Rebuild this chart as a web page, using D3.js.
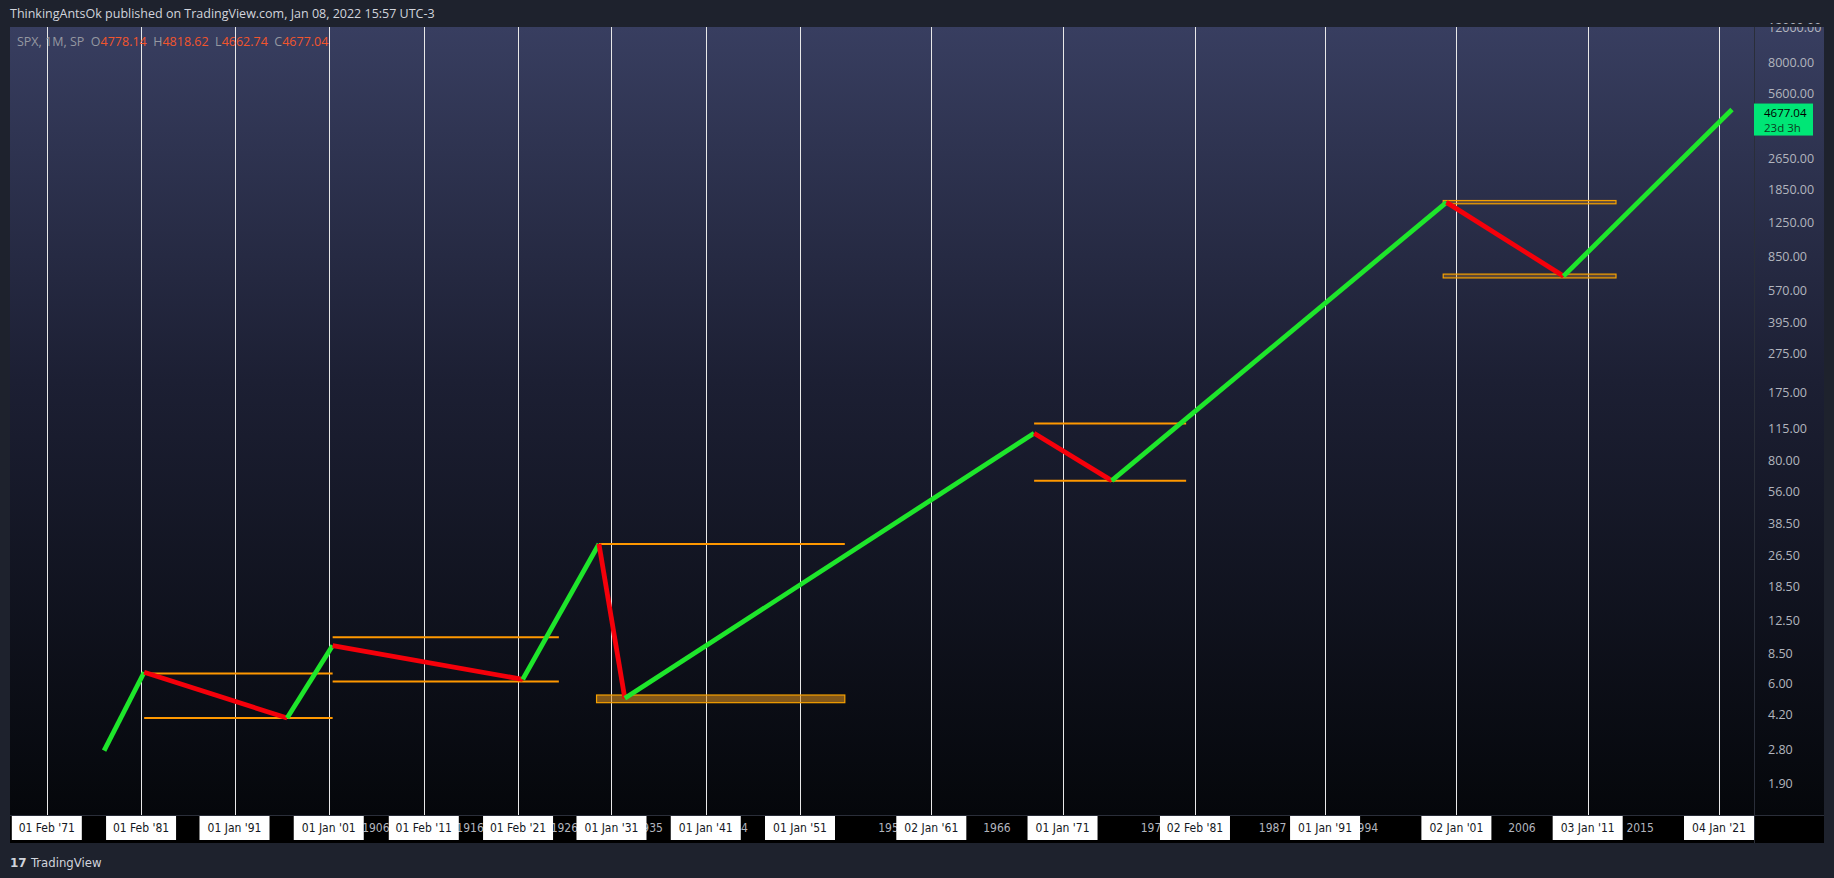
<!DOCTYPE html>
<html><head><meta charset="utf-8">
<script src="https://cdn.jsdelivr.net/npm/d3@7"></script>
<style>body{margin:0;background:#1e222d;overflow:hidden}</style>
</head><body><svg id="c" width="1834" height="878"></svg>
<script>
// ---- data ----
const pivotDates = ["1877-03-01","1881-06-01","1896-08-01","1901-06-01","1921-08-01","1929-09-01","1932-06-01","1968-11-01","1974-10-01","2000-04-01","2009-03-01","2022-01-01"];
const pivotValues = [2.78, 6.9, 4.06, 9.4, 6.35, 30.5, 5.1, 110, 63.5, 1596, 679, 4677.04];
const levelStart = ["1881-06-01","1881-06-01","1901-06-01","1901-06-01","1929-09-01","1968-11-01","1968-11-01"];
const levelEnd   = ["1901-06-01","1901-06-01","1925-06-01","1925-06-01","1954-06-01","1980-06-01","1980-06-01"];
const levelValue = [6.8, 4.06, 10.35, 6.2, 30.5, 123, 63.5];
const bandStart = ["1929-06-01","2000-01-01","2000-01-01"];
const bandEnd   = ["1954-06-01","2013-03-01","2013-03-01"];
const bandLow   = [4.85, 1570, 665];
const bandHigh  = [5.3, 1630, 695];
const timeTickDates = ["1871-02-01","1881-02-01","1891-01-01","1901-01-01","1911-02-01","1921-02-01","1931-01-01","1941-01-01","1951-01-01","1961-01-02","1971-01-01","1981-02-02","1991-01-01","2001-01-02","2011-01-03","2021-01-04"];
const timeTickLabels = ["01 Feb '71","01 Feb '81","01 Jan '91","01 Jan '01","01 Feb '11","01 Feb '21","01 Jan '31","01 Jan '41","01 Jan '51","02 Jan '61","01 Jan '71","02 Feb '81","01 Jan '91","02 Jan '01","03 Jan '11","04 Jan '21"];
const minorYears = ["1906","1916","1926","1935","1944","1958","1966","1978","1987","1994","2006","2015"];
const priceTicks = [12000,8000,5600,2650,1850,1250,850,570,395,275,175,115,80,56,38.5,26.5,18.5,12.5,8.5,6,4.2,2.8,1.9];
const lastPrice = 4677.04;

// ---- layout ----
const P = d3.timeParse("%Y-%m-%d");
const L=10, R=1754, T=27, B=815, AX=1824;
const svg = d3.select("#c");
const x = d3.scaleTime().domain([P("1871-02-01"),P("1951-01-01"),P("2021-01-04")]).range([46.8,800,1719]);
const y = d3.scaleLog().domain([1.32,12170]).range([B,T]);

const defs = svg.append("defs");
const g = defs.append("linearGradient").attr("id","bg").attr("x1",0).attr("y1",0).attr("x2",0).attr("y2",1);
g.append("stop").attr("offset","0%").attr("stop-color","#383e60");
g.append("stop").attr("offset","45%").attr("stop-color","#1c1f33");
g.append("stop").attr("offset","100%").attr("stop-color","#05070b");
defs.append("clipPath").attr("id","clip").append("rect").attr("x",L).attr("y",T).attr("width",R-L).attr("height",B-T);

svg.append("rect").attr("x",L).attr("y",T).attr("width",AX-L).attr("height",B-T).attr("fill","url(#bg)");
svg.append("rect").attr("x",L).attr("y",B).attr("width",AX-L).attr("height",28).attr("fill","#000");
svg.append("line").attr("x1",L).attr("x2",AX).attr("y1",B+0.5).attr("y2",B+0.5).attr("stroke","#2a2e39");
svg.append("line").attr("x1",R+0.5).attr("x2",R+0.5).attr("y1",T).attr("y2",B+28).attr("stroke","#2a2e39");

const plot = svg.append("g").attr("clip-path","url(#clip)");
plot.selectAll(".vg").data(timeTickDates).join("line")
  .attr("x1",d=>Math.round(x(P(d)))+0.5).attr("x2",d=>Math.round(x(P(d)))+0.5)
  .attr("y1",T).attr("y2",B).attr("stroke","#e8e8e8").attr("stroke-width",1);

bandStart.forEach((s,i)=>{
  plot.append("rect").attr("x",x(P(s))).attr("width",x(P(bandEnd[i]))-x(P(s)))
   .attr("y",y(bandHigh[i])).attr("height",Math.max(3,y(bandLow[i])-y(bandHigh[i])))
   .attr("fill",i==0?"rgba(230,150,30,0.55)":"rgba(230,150,30,0.3)").attr("stroke","#f5a000").attr("stroke-width",1.2);
});
levelStart.forEach((s,i)=>{
  plot.append("line").attr("x1",x(P(s))).attr("x2",x(P(levelEnd[i])))
   .attr("y1",y(levelValue[i])).attr("y2",y(levelValue[i])).attr("stroke","#ff9800").attr("stroke-width",2);
});
for(let i=0;i<pivotDates.length-1;i++){
  const up = pivotValues[i+1]>pivotValues[i];
  plot.append("line").attr("x1",x(P(pivotDates[i]))).attr("y1",y(pivotValues[i]))
   .attr("x2",x(P(pivotDates[i+1]))).attr("y2",y(pivotValues[i+1]))
   .attr("stroke",up?"#1ee62b":"#f5000a").attr("stroke-width",4.8);
}

svg.selectAll(".yl").data(priceTicks).join("text")
  .attr("x",R+14).attr("y",d=>y(d)+4).text(d=>d.toFixed(2))
  .attr("fill","#b2b5be").attr("font-family","Open Sans, DejaVu Sans").attr("font-size",12.5);
svg.append("rect").attr("x",R).attr("y",T-3).attr("width",AX-R).attr("height",3).attr("fill","#1e222d");
const ly = y(lastPrice);
svg.append("rect").attr("x",R).attr("y",ly-6).attr("width",59).attr("height",32).attr("fill","#00e676");
svg.append("text").attr("x",R+10).attr("y",ly+7).text(lastPrice.toFixed(2)).attr("fill","#000").attr("font-family","Open Sans").attr("font-size",11.5);
svg.append("text").attr("x",R+10).attr("y",ly+22).text("23d 3h").attr("fill","#0b3d1e").attr("font-family","Open Sans").attr("font-size",11.5);

const xf = "DejaVu Sans Condensed, Liberation Sans Narrow, Roboto";
const xa = svg.append("g");
xa.selectAll(".mn").data(minorYears).join("text")
  .attr("x",d=>x(P(d+"-01-01"))).attr("y",B+17).attr("text-anchor","middle").text(d=>d)
  .attr("fill","#b2b5be").attr("font-family",xf).attr("font-size",12);
timeTickDates.forEach((d,i)=>{
  const cx = x(P(d));
  xa.append("rect").attr("x",cx-35).attr("y",B+1).attr("width",70).attr("height",24).attr("fill","#fff");
  xa.append("text").attr("x",cx).attr("y",B+17).attr("text-anchor","middle").text(timeTickLabels[i])
    .attr("fill","#131722").attr("font-family",xf).attr("font-size",12);
});

svg.append("text").attr("x",10).attr("y",18).text("ThinkingAntsOk published on TradingView.com, Jan 08, 2022 15:57 UTC-3")
  .attr("fill","#d1d4dc").attr("font-family","Open Sans, DejaVu Sans").attr("font-size",12.5);
const lg = svg.append("text").attr("x",17).attr("y",46).attr("font-family","Open Sans, DejaVu Sans").attr("font-size",12.5);
[["SPX, 1M, SP  ","#9598a1"],["O","#9598a1"],["4778.14","#f2552c"],["  H","#9598a1"],["4818.62","#f2552c"],["  L","#9598a1"],["4662.74","#f2552c"],["  C","#9598a1"],["4677.04","#f2552c"]]
 .forEach(([t,c])=>lg.append("tspan").text(t).attr("fill",c).style("white-space","pre"));
svg.append("text").attr("x",10).attr("y",867).text("17").attr("fill","#d1d4dc").attr("font-family","DejaVu Sans").attr("font-weight","bold").attr("font-size",12);
svg.append("text").attr("x",31).attr("y",867).text("TradingView").attr("fill","#d1d4dc").attr("font-family",xf).attr("font-size",13);
</script></body></html>
